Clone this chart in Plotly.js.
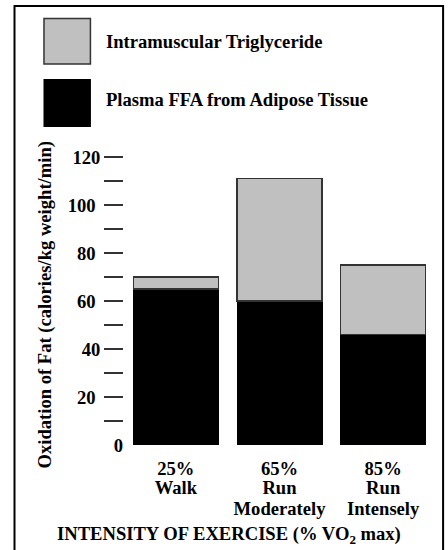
<!DOCTYPE html>
<html>
<head>
<meta charset="utf-8">
<script src="https://cdn.plot.ly/plotly-3.0.1.min.js"></script>
<style>html,body{margin:0;padding:0;background:#fff;}#chart{width:448px;height:550px;}</style>
</head>
<body>
<div id="chart"></div>
<script>
// ---- data ----
var intensities = ['25%', '65%', '85%'];
var activityLine1 = ['Walk', 'Run', 'Run'];
var activityLine2 = ['', 'Moderately', 'Intensely'];
var plasmaFFA = [65, 60, 46];
var intramuscularTG = [5, 51, 29];
var seriesNames = ['Intramuscular Triglyceride', 'Plasma FFA from Adipose Tissue'];
var yTickVals = [20, 40, 60, 80, 100, 120];
var yTickText = ['20\u00a0', '40', '60\u00a0', '80\u00a0', '100\u00a0', '120'];
var yMinorVals = [10, 30, 50, 70, 90, 110];
var yTitle = 'Oxidation of Fat (calories/kg weight/min)';
var xTitle = 'INTENSITY OF EXERCISE (% VO<sub>2</sub> max)';

// ---- layout geometry ----
var W = 448, Hh = 550;
var M = {l: 123.6, r: 13.1, t: 157, b: 105};
var pw = W - M.l - M.r, ph = Hh - M.t - M.b;
function px(x) { return (x - M.l) / pw; }
function py(y) { return (Hh - M.b - y) / ph; }

var FONT = 'Liberation Serif, Times New Roman, serif';
var f18 = {family: FONT, size: 18.6, color: '#000', weight: 'bold'};

var traces = [
  {type: 'bar', x: intensities, y: plasmaFFA, name: seriesNames[1],
   marker: {color: '#000', line: {color: '#000', width: 1}}, hoverinfo: 'skip'},
  {type: 'bar', x: intensities, y: intramuscularTG, name: seriesNames[0],
   marker: {color: '#c0c0c0', line: {color: '#333', width: 1.2}}, hoverinfo: 'skip'},
  {type: 'scatter', x: [intensities[0]], y: [0], yaxis: 'y2', mode: 'none', showlegend: false, hoverinfo: 'skip'},
  {type: 'scatter', x: [intensities[0]], y: [0], xaxis: 'x2', mode: 'none', showlegend: false, hoverinfo: 'skip'},
  {type: 'scatter', x: [intensities[0]], y: [0], xaxis: 'x3', mode: 'none', showlegend: false, hoverinfo: 'skip'}
];

function xCat(standoff, text) {
  var a = {
    type: 'category', categoryorder: 'array', categoryarray: intensities,
    range: [-0.5, 2.5], showline: false, showgrid: false, zeroline: false,
    ticks: '', tickfont: f18, ticklabelstandoff: standoff, fixedrange: true
  };
  if (text) {
    var vals = [], txt = [];
    intensities.forEach(function (c, i) { if (text[i]) { vals.push(c); txt.push(text[i]); } });
    a.overlaying = 'x'; a.side = 'bottom'; a.anchor = 'y';
    a.tickmode = 'array'; a.tickvals = vals; a.ticktext = txt;
  }
  return a;
}

var layout = {
  width: W, height: Hh,
  margin: M,
  paper_bgcolor: '#fff', plot_bgcolor: '#fff',
  barmode: 'stack', bargap: 0.18,
  showlegend: false,
  font: f18,
  xaxis: xCat(10),
  xaxis2: xCat(29, activityLine1),
  xaxis3: xCat(50, activityLine2),
  yaxis: {
    range: [0, 120], showline: false, showgrid: false, zeroline: false,
    tickmode: 'array', tickvals: yTickVals, ticktext: yTickText,
    ticks: 'outside', ticklen: 19, tickwidth: 2, tickcolor: '#333',
    minor: {tickmode: 'array', tickvals: yMinorVals, ticks: 'outside', ticklen: 19, tickwidth: 2,
            tickcolor: '#333', showgrid: false},
    tickfont: f18, ticklabelstandoff: 0, fixedrange: true
  },
  yaxis2: {
    overlaying: 'y', side: 'left', range: [0, 120], showline: false, showgrid: false, zeroline: false,
    tickmode: 'array', tickvals: [0], ticktext: ['0'], ticks: '', tickfont: f18, fixedrange: true
  },
  shapes: [
    {type: 'rect', xref: 'paper', yref: 'paper', x0: px(14), x1: px(443), y0: py(6), y1: py(570),
     line: {color: '#000', width: 2}, fillcolor: 'rgba(0,0,0,0)', layer: 'below'},
    {type: 'rect', xref: 'paper', yref: 'paper', x0: px(43.5), x1: px(90), y0: py(18.5), y1: py(64),
     line: {color: '#333', width: 1.5}, fillcolor: '#c0c0c0'},
    {type: 'rect', xref: 'paper', yref: 'paper', x0: px(43), x1: px(90.5), y0: py(79), y1: py(127),
     line: {color: '#000', width: 0}, fillcolor: '#000'}
  ],
  annotations: [
    {xref: 'paper', yref: 'paper', x: px(104), y: py(41), text: seriesNames[0], showarrow: false,
     xanchor: 'left', yanchor: 'middle', font: f18},
    {xref: 'paper', yref: 'paper', x: px(104), y: py(100), text: seriesNames[1], showarrow: false,
     xanchor: 'left', yanchor: 'middle', font: f18},
    {xref: 'paper', yref: 'paper', x: px(45), y: py(305), text: yTitle, showarrow: false, textangle: -90,
     xanchor: 'center', yanchor: 'middle', font: f18},
    {xref: 'paper', yref: 'paper', x: px(229), y: py(535), text: xTitle, showarrow: false,
     xanchor: 'center', yanchor: 'middle', font: f18}
  ]
};

Plotly.newPlot('chart', traces, layout, {displayModeBar: false, staticPlot: true});
</script>
</body>
</html>
